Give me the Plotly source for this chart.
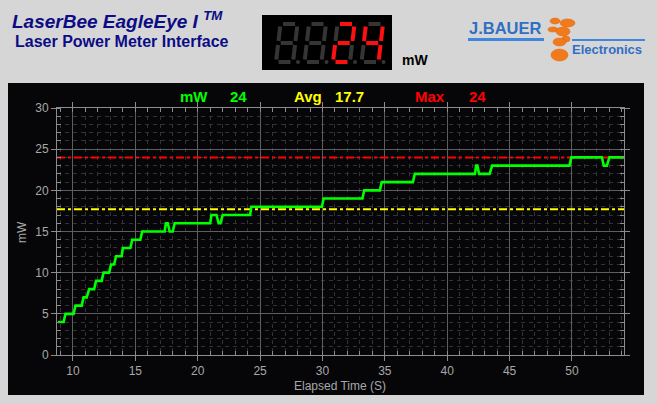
import plotly.graph_objects as go

# ---------------- data ----------------
time_s = [8.8, 9.25, 9.4, 10.05, 10.2, 10.7, 10.85, 11.1, 11.3, 11.7, 11.85, 12.3,
          12.45, 12.9, 13.05, 13.3, 13.45, 13.9, 14.0, 14.6, 14.75, 15.4, 15.55,
          17.35, 17.45, 17.6, 17.75, 18.0, 18.15, 21.0, 21.1, 21.5, 21.68, 21.82,
          22.0, 24.2, 24.3, 29.95, 30.1, 33.2, 33.35, 34.6, 34.75, 37.25, 37.4,
          42.22, 42.32, 42.42, 42.55, 43.4, 43.6, 49.8, 49.95, 52.4, 52.55, 52.8,
          53.0, 54.2]
power_mw = [4, 4, 5, 5, 6, 6, 7, 7, 8, 8, 9, 9,
            10, 10, 11, 11, 12, 12, 13, 13, 14, 14, 15,
            15, 16, 16, 15, 15, 16, 16, 17, 17, 16, 16,
            17, 17, 18, 18, 19, 19, 20, 20, 21, 21, 22,
            22, 23, 23, 22, 22, 23, 23, 24, 24, 23, 23,
            24, 24]
avg_mw = 17.7
max_mw = 24
current_mw = 24
x_tick_vals = [10, 15, 20, 25, 30, 35, 40, 45, 50]
x_tick_text = ["10", "15", "20", "25", "30", "35", "40", "45", "50"]
y_tick_vals = [0, 5, 10, 15, 20, 25, 30]
y_tick_text = ["0", "5", "10", "15", "20", "25", "30"]
x_range = [8.72, 54.17]
y_range = [0, 30]

# ---------------- geometry helpers (pixel -> paper) ----------------
W, H = 657, 404
L, R, T, B = 57, 624, 108, 355
PW, PH = R - L, B - T


def px(x):
    return (x - L) / PW


def py(y):
    return (B - y) / PH


NARROW = "Liberation Sans Narrow, Arial Narrow, Liberation Sans, Arial, sans-serif"
SANS = "Liberation Sans, Arial, sans-serif"

fig = go.Figure()

fig.add_trace(go.Scatter(x=x_range, y=[max_mw, max_mw], mode="lines",
                         line=dict(color="#ff0000", width=2, dash="8px,3px,3px,3px"),
                         hoverinfo="skip"))
fig.add_trace(go.Scatter(x=x_range, y=[avg_mw, avg_mw], mode="lines",
                         line=dict(color="#ffff00", width=2, dash="8px,3px,3px,3px"),
                         hoverinfo="skip"))
fig.add_trace(go.Scatter(x=time_s, y=power_mw, mode="lines",
                         line=dict(color="#00ff00", width=2.6)))

shapes = []
annotations = []

# black panel
shapes.append(dict(type="rect", xref="paper", yref="paper", layer="below",
                   x0=px(8), x1=px(644), y0=py(395), y1=py(83),
                   fillcolor="#060608", line=dict(width=0)))

# ---------------- seven segment display ----------------
shapes.append(dict(type="rect", xref="paper", yref="paper",
                   x0=px(262), x1=px(392), y0=py(70), y1=py(15),
                   fillcolor="#000000", line=dict(width=0)))
SEGS = {
    "0": "abcdef", "1": "bc", "2": "abged", "3": "abgcd", "4": "fgbc",
    "5": "afgcd", "6": "afgedc", "7": "abc", "8": "abcdefg", "9": "abcdfg",
}
digit_left = [276, 304.5, 333, 361.5]
seg_w, seg_h, slant, top = 17, 38, 4.5, 24
ON, OFF = "#ff1010", "#353535"
reading = str(current_mw).rjust(4)


def seg_line(x0, u0, v0, u1, v1, color):
    X0 = x0 + u0 + slant * (1 - v0 / seg_h)
    X1 = x0 + u1 + slant * (1 - v1 / seg_h)
    return dict(type="line", xref="paper", yref="paper",
                x0=px(X0), y0=py(top + v0), x1=px(X1), y1=py(top + v1),
                line=dict(color=color, width=4))


for i, x0 in enumerate(digit_left):
    ch = reading[i]
    lit = SEGS.get(ch, "")
    w, h = seg_w, seg_h
    segdef = {
        "a": (2.5, 0, w - 2.5, 0),
        "b": (w, 2.5, w, h / 2 - 2),
        "c": (w, h / 2 + 2, w, h - 2.5),
        "d": (2.5, h, w - 2.5, h),
        "e": (0, h / 2 + 2, 0, h - 2.5),
        "f": (0, 2.5, 0, h / 2 - 2),
        "g": (2.5, h / 2, w - 2.5, h / 2),
    }
    for s, (u0, v0, u1, v1) in segdef.items():
        shapes.append(seg_line(x0, u0, v0, u1, v1, ON if s in lit else OFF))
    dx = x0 + w + 5
    shapes.append(dict(type="circle", xref="paper", yref="paper",
                       x0=px(dx - 2), x1=px(dx + 2), y0=py(top + h + 2), y1=py(top + h - 2),
                       fillcolor=OFF, line=dict(width=0)))

annotations.append(dict(text="<b>mW</b>", x=px(400), y=py(60), xref="paper", yref="paper",
                        xanchor="left", yanchor="middle", showarrow=False,
                        font=dict(family=SANS, size=14, color="#000000")))

# ---------------- header titles ----------------
annotations.append(dict(text="<b><i>LaserBee EagleEye I <sup>TM</sup></i></b>",
                        x=px(10), y=py(20), xref="paper", yref="paper",
                        xanchor="left", yanchor="middle", showarrow=False,
                        font=dict(family=SANS, size=19, color="#0c0c84")))
annotations.append(dict(text="<b>Laser Power Meter Interface</b>",
                        x=px(13), y=py(42), xref="paper", yref="paper",
                        xanchor="left", yanchor="middle", showarrow=False,
                        font=dict(family=SANS, size=16, color="#0c0c84")))

# ---------------- logo ----------------
BLUE = "#2f6fc4"
annotations.append(dict(text="<b>J.BAUER</b>", x=px(467), y=py(28), xref="paper", yref="paper",
                        xanchor="left", yanchor="middle", showarrow=False,
                        font=dict(family=NARROW, size=16.5, color=BLUE)))
annotations.append(dict(text="<b>Electronics</b>", x=px(570), y=py(49), xref="paper", yref="paper",
                        xanchor="left", yanchor="middle", showarrow=False,
                        font=dict(family=SANS, size=13, color=BLUE)))
shapes.append(dict(type="line", xref="paper", yref="paper", x0=px(468), x1=px(544),
                   y0=py(39.5), y1=py(39.5), line=dict(color="#3f86dc", width=3)))
shapes.append(dict(type="line", xref="paper", yref="paper", x0=px(572), x1=px(645),
                   y0=py(40), y1=py(40), line=dict(color="#3f86dc", width=2)))
ovals = [(550, 18, 560, 24), (560, 19, 575, 27), (548, 27, 558, 32), (556, 27, 570, 36),
         (562, 36, 570, 42), (553, 38, 566, 46), (551, 49, 568, 61)]
for (a, b, c, d) in ovals:
    shapes.append(dict(type="circle", xref="paper", yref="paper",
                       x0=px(a), x1=px(c), y0=py(d), y1=py(b),
                       fillcolor="#f27a1a", line=dict(color="#e0600a", width=0.5)))

# ---------------- readout row ----------------
readout = [("mW", 178, "#00ff00"), (str(current_mw), 228, "#00ff00"),
           ("Avg", 292, "#ffff00"), (str(avg_mw), 333, "#ffff00"),
           ("Max", 413, "#ff0000"), (str(max_mw), 467, "#ff0000")]
for txt, x, col in readout:
    annotations.append(dict(text="<b>" + txt + "</b>", x=px(x), y=py(96),
                            xref="paper", yref="paper", xanchor="left", yanchor="middle",
                            showarrow=False, font=dict(family=NARROW, size=15, color=col)))

# axis titles
annotations.append(dict(text="Elapsed Time (S)", x=px(340), y=py(386), xref="paper", yref="paper",
                        xanchor="center", yanchor="middle", showarrow=False,
                        font=dict(family=NARROW, size=12, color="#a8a8a8")))
annotations.append(dict(text="mW", x=px(22), y=py(232), xref="paper", yref="paper",
                        xanchor="center", yanchor="middle", showarrow=False, textangle=-90,
                        font=dict(family=NARROW, size=12, color="#a8a8a8")))

axis_common = dict(
    showgrid=True, gridcolor="#5e5e5e", gridwidth=1,
    showline=True, linecolor="#8c8c8c", linewidth=1, mirror="allticks",
    ticks="outside", ticklen=5, tickcolor="#8c8c8c",
    zeroline=False, tickfont=dict(family=NARROW, size=12, color="#a8a8a8"),
    tickmode="array",
    minor=dict(tickmode="linear", tick0=0, dtick=1, showgrid=True, gridcolor="#333333",
               griddash="4px,4px", gridwidth=1, ticks="inside", ticklen=4, tickcolor="#8c8c8c"),
)

fig.update_layout(
    width=W, height=H,
    margin=dict(l=L, r=W - R, t=T, b=H - B, pad=0),
    paper_bgcolor="#d6d6d6", plot_bgcolor="#060608",
    showlegend=False,
    xaxis=dict(range=x_range, tickvals=x_tick_vals, ticktext=x_tick_text, **axis_common),
    yaxis=dict(range=y_range, tickvals=y_tick_vals, ticktext=y_tick_text, **axis_common),
    shapes=shapes, annotations=annotations,
)

fig.write_html("out.html",
               config={"displayModeBar": False},
               post_script="document.body.style.margin='0px';"
                           "document.body.style.background='#d6d6d6';")
